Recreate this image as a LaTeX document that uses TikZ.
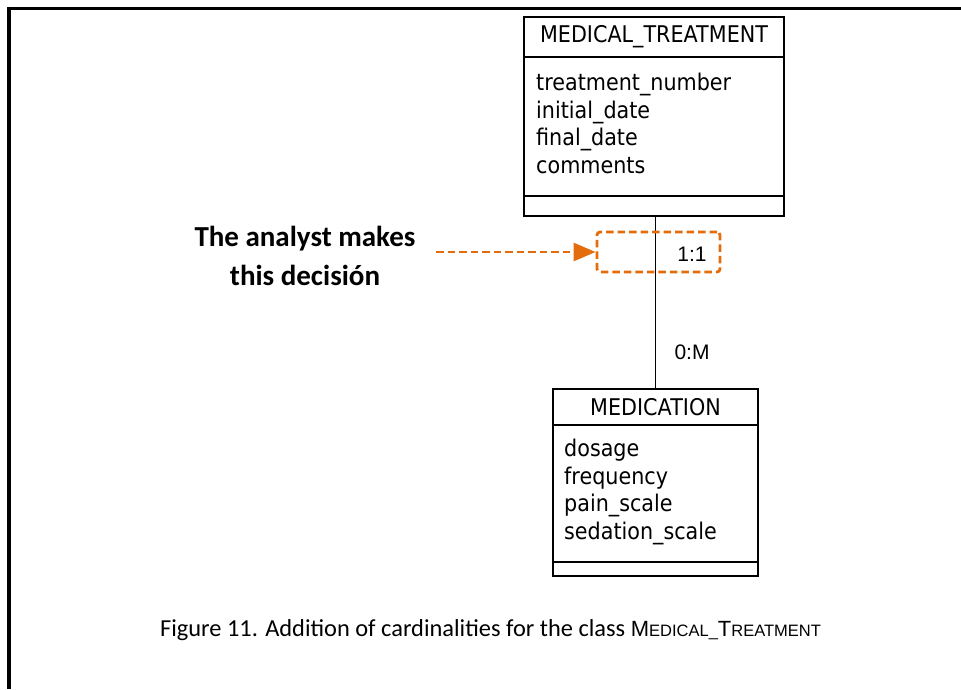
\documentclass[tikz,border=0pt]{standalone}
\usepackage{fontspec}
\setmainfont{Liberation Sans}
\newfontfamily\tah[FakeStretch=0.9]{DejaVu Sans}
\newfontfamily\calib{Carlito}
\usetikzlibrary{arrows.meta}
\definecolor{orng}{RGB}{228,108,10}
\begin{document}
\begin{tikzpicture}[x=1pt,y=-1pt,
  clsbox/.style={draw, line width=1.6pt, inner sep=0pt, outer sep=0pt},
  clstitle/.style={font=\tah\fontsize{23}{23}\selectfont},
  attrs/.style={font=\tah\fontsize{23}{27.7}\selectfont, align=left, anchor=west, inner sep=0pt},
  card/.style={font=\fontsize{21}{21}\selectfont, inner sep=0pt},
  orangedash/.style={draw=orng, line width=2.8pt, dash pattern=on 7.5pt off 4pt},
  note/.style={font=\calib\bfseries\fontsize{29}{39}\selectfont, align=center, inner sep=0pt}
]
\useasboundingbox (0,0) rectangle (961,689);
% frame
\fill (7,7) rectangle (11,689);
\fill (7,7) rectangle (961,10);

% MEDICAL_TREATMENT class
\node[clsbox, minimum width=260pt, minimum height=40pt, clstitle] (mtT) at (654,37) {MEDICAL\_TREATMENT};
\node[clsbox, minimum width=260pt, minimum height=139pt, anchor=north] (mtA) at (mtT.south) {};
\node[clsbox, minimum width=260pt, minimum height=20pt, anchor=north] (mtO) at (mtA.south) {};
\node[attrs] (mtAt) at (536,123.5) {treatment\_number\\initial\_date\\final\_date\\comments};

% MEDICATION class
\node[clsbox, minimum width=205pt, minimum height=36pt, clstitle] (mdT) at (655.5,407) {MEDICATION};
\node[clsbox, minimum width=205pt, minimum height=137pt, anchor=north] (mdA) at (mdT.south) {};
\node[clsbox, minimum width=205pt, minimum height=14pt, anchor=north] (mdO) at (mdA.south) {};
\node[attrs] (mdAt) at (564,492) {dosage\\frequency\\pain\_scale\\sedation\_scale};

% association
\draw[line width=0.9pt] (mtO.south -| 655,0) -- (mdT.north -| 655,0);
\node[card] (c11) at (692,254) {1:1};
\node[card] (c0m) at (692,352) {0:M};

% decision highlight
\node[orangedash, rounded corners=3pt, minimum width=123pt, minimum height=40pt, inner sep=0pt] (dec) at (658.5,252) {};
\coordinate (arrS) at (436,252);
\draw[orangedash, -{Triangle[length=22pt,width=18pt]}] (arrS) -- (dec.west);
\node[note] (nt) at (305,256) {The analyst makes\\this decisión};

% caption
\node[font=\calib\fontsize{24.4}{24.4}\selectfont, inner sep=0pt] (cap) at (490.5,630) {Figure 11. Addition of cardinalities for the class {\fontspec{Liberation Sans}\fontsize{22}{22}\selectfont M\fontsize{16.5}{16.5}\selectfont EDICAL\_\fontsize{22}{22}\selectfont T\fontsize{16.5}{16.5}\selectfont REATMENT}};
\end{tikzpicture}
\end{document}
